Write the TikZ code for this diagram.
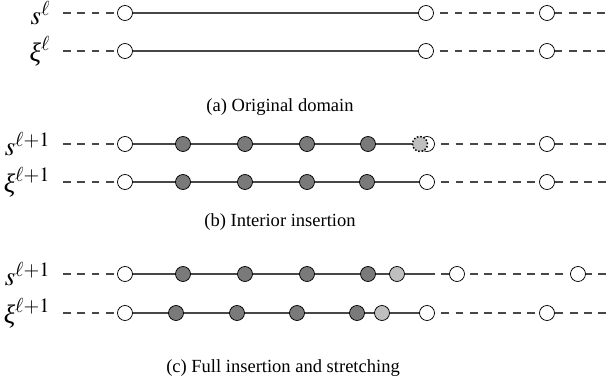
\documentclass[tikz,border=0pt]{standalone}
\usepackage{mathptmx}
\usepackage{fontspec}
\setmainfont{Liberation Serif}
\usetikzlibrary{backgrounds}

\newcommand{\gxi}{\textit{ξ}}

\begin{document}
\begin{tikzpicture}[
    x=0.54pt, y=-0.54pt,
    hollow/.style={circle, draw, fill=white, inner sep=0pt, minimum size=8.1pt},
    oldpt/.style={hollow, fill=black!52},
    newpt/.style={hollow, fill=black!25},
    ghost/.style={newpt, densely dotted, thick},
    lbl/.style={anchor=east, font=\Large},
    capt/.style={font=\normalsize},
    segline/.style={draw=black!72, line width=0.6pt},
    gapline/.style={segline, dash pattern=on 4.3pt off 3.4pt}
]
\useasboundingbox (0,0) rectangle (607,387);

% (a) Original domain
\node[lbl] (sAl) at (57,13) {$s^{\ell}$};
\coordinate (sA0) at (63,13);
\node[hollow] (sA1) at (125,13) {};
\node[hollow] (sA2) at (426,13) {};
\node[hollow] (sA3) at (547,13) {};
\coordinate (sA4) at (607,13);

\node[lbl] (xiAl) at (57,51) {$\gxi^{\ell}$};
\coordinate (xiA0) at (63,51);
\node[hollow] (xiA1) at (125,51) {};
\node[hollow] (xiA2) at (426,51) {};
\node[hollow] (xiA3) at (547,51) {};
\coordinate (xiA4) at (607,51);

\node[capt] (capA) at (280,107) {(a) Original domain};

% (b) Interior insertion
\node[lbl] (sBl) at (57,144) {$s^{\ell+1}$};
\coordinate (sB0) at (63,144);
\node[hollow] (sB1) at (125,144) {};
\node[oldpt] (sB2) at (183,144) {};
\node[oldpt] (sB3) at (245,144) {};
\node[oldpt] (sB4) at (307,144) {};
\node[oldpt] (sB5) at (368,144) {};
\node[hollow] (sB6) at (427,144) {};
\node[ghost] (sB7) at (420,144) {};
\node[hollow] (sB8) at (547,144) {};
\coordinate (sB9) at (607,144);

\node[lbl] (xiBl) at (57,182) {$\gxi^{\ell+1}$};
\coordinate (xiB0) at (63,182);
\node[hollow] (xiB1) at (125,182) {};
\node[oldpt] (xiB2) at (183,182) {};
\node[oldpt] (xiB3) at (245,182) {};
\node[oldpt] (xiB4) at (307,182) {};
\node[oldpt] (xiB5) at (367,182) {};
\node[hollow] (xiB6) at (427,182) {};
\node[hollow] (xiB7) at (547,182) {};
\coordinate (xiB8) at (607,182);

\node[capt] (capB) at (280,222) {(b) Interior insertion};

% (c) Full insertion and stretching
\node[lbl] (sCl) at (57,274) {$s^{\ell+1}$};
\coordinate (sC0) at (63,274);
\node[hollow] (sC1) at (125,274) {};
\node[oldpt] (sC2) at (183,274) {};
\node[oldpt] (sC3) at (245,274) {};
\node[oldpt] (sC4) at (307,274) {};
\node[oldpt] (sC5) at (368,274) {};
\node[newpt] (sC6) at (397,274) {};
\coordinate (sC7) at (435,274);
\node[hollow] (sC8) at (457,274) {};
\node[hollow] (sC9) at (578,274) {};
\coordinate (sC10) at (607,274);

\node[lbl] (xiCl) at (57,313) {$\gxi^{\ell+1}$};
\coordinate (xiC0) at (63,313);
\node[hollow] (xiC1) at (125,313) {};
\node[oldpt] (xiC2) at (176,313) {};
\node[oldpt] (xiC3) at (237,313) {};
\node[oldpt] (xiC4) at (297,313) {};
\node[oldpt] (xiC5) at (357,313) {};
\node[newpt] (xiC6) at (382,313) {};
\node[hollow] (xiC7) at (427,313) {};
\node[hollow] (xiC8) at (547,313) {};
\coordinate (xiC9) at (607,313);

\node[capt] (capC) at (283,368) {(c) Full insertion and stretching};

% Lines behind the points
\begin{scope}[on background layer]
\draw[gapline] (sA0) -- (sA1.center);
\draw[segline] (sA1.center) -- (sA2.center);
\draw[gapline] (sA2.center) -- (sA3.center) -- (sA4);

\draw[gapline] (xiA0) -- (xiA1.center);
\draw[segline] (xiA1.center) -- (xiA2.center);
\draw[gapline] (xiA2.center) -- (xiA3.center) -- (xiA4);

\draw[gapline] (sB0) -- (sB1.center);
\draw[segline] (sB1.center) -- (sB7.center);
\draw[gapline] (sB6.center) -- (sB8.center) -- (sB9);

\draw[gapline] (xiB0) -- (xiB1.center);
\draw[segline] (xiB1.center) -- (xiB6.center);
\draw[gapline] (xiB6.center) -- (xiB7.center) -- (xiB8);

\draw[gapline] (sC0) -- (sC1.center);
\draw[segline] (sC1.center) -- (sC7);
\draw[gapline, dash phase=4.3pt] (sC7) -- (sC8.center) -- (sC9.center) -- (sC10);

\draw[gapline] (xiC0) -- (xiC1.center);
\draw[segline] (xiC1.center) -- (xiC7.center);
\draw[gapline] (xiC7.center) -- (xiC8.center) -- (xiC9);
\end{scope}

\end{tikzpicture}
\end{document}
